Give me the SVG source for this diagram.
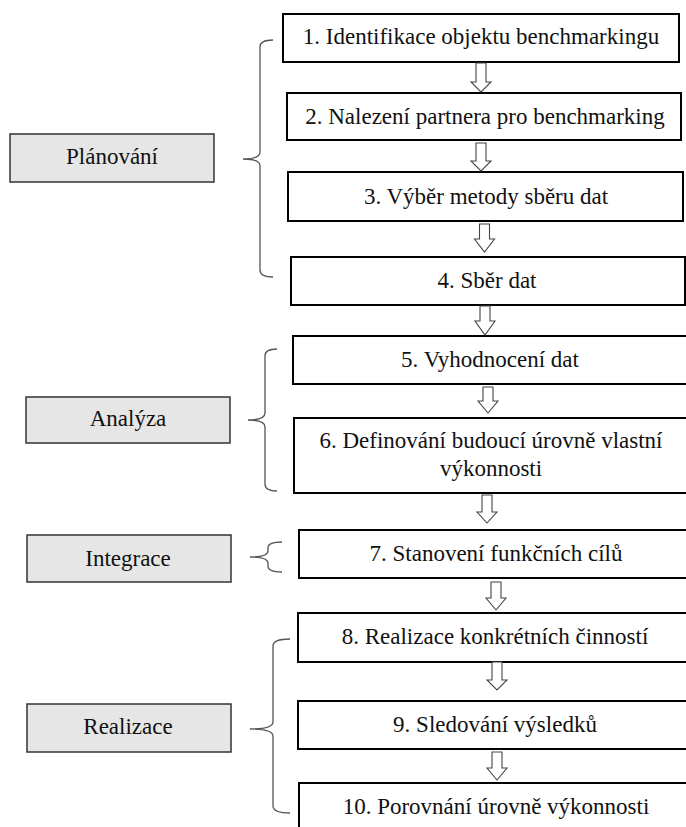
<svg xmlns="http://www.w3.org/2000/svg" width="686" height="827" viewBox="0 0 686 827" font-family="'Liberation Serif', 'DejaVu Serif', 'Times New Roman', serif">
<style>
.step rect{fill:#fff;stroke:#000;stroke-width:2}
.phase rect{fill:#e6e6e6;stroke:#333;stroke-width:1.5}
text{font-family:'Liberation Serif','DejaVu Serif','Times New Roman',serif;font-size:23px;fill:#111;text-anchor:middle}
.arrow{fill:#fff;stroke:#444;stroke-width:1.1;stroke-linejoin:miter}
.brace{fill:none;stroke:#555;stroke-width:1.3}
</style>
<rect width="686" height="827" fill="#fff"/>
<g id="phase-planovani" class="phase"><rect x="10" y="134" width="204" height="48"/><text x="112" y="164">Plánování</text></g>
<g id="phase-analyza" class="phase"><rect x="26" y="397" width="204" height="46"/><text x="128" y="426">Analýza</text></g>
<g id="phase-integrace" class="phase"><rect x="27" y="535" width="204" height="47"/><text x="128" y="566">Integrace</text></g>
<g id="phase-realizace" class="phase"><rect x="27" y="704" width="204" height="48"/><text x="128" y="734">Realizace</text></g>

<g id="step1" class="step"><rect x="283" y="14" width="396" height="48"/><text x="481" y="44">1. Identifikace objektu benchmarkingu</text></g>
<g id="step2" class="step"><rect x="287" y="93" width="394" height="47"/><text x="485" y="124">2. Nalezení partnera pro benchmarking</text></g>
<g id="step3" class="step"><rect x="288" y="172" width="395" height="49"/><text x="486" y="204">3. Výběr metody sběru dat</text></g>
<g id="step4" class="step"><rect x="291" y="257" width="394" height="48"/><text x="487" y="288">4. Sběr dat</text></g>
<g id="step5" class="step"><rect x="293" y="336" width="400" height="48"/><text x="490" y="367">5. Vyhodnocení dat</text></g>
<g id="step6" class="step"><rect x="294" y="418" width="400" height="75"/><text x="491" y="448">6. Definování budoucí úrovně vlastní</text><text x="491" y="476">výkonnosti</text></g>
<g id="step7" class="step"><rect x="299" y="530" width="400" height="48"/><text x="496" y="561">7. Stanovení funkčních cílů</text></g>
<g id="step8" class="step"><rect x="298" y="613" width="400" height="49"/><text x="495" y="644">8. Realizace konkrétních činností</text></g>
<g id="step9" class="step"><rect x="298" y="701" width="400" height="48"/><text x="495" y="732">9. Sledování výsledků</text></g>
<g id="step10" class="step"><rect x="299" y="783" width="400" height="60"/><text x="496" y="814">10. Porovnání úrovně výkonnosti</text></g>

<g id="connectors">
<path class="arrow" d="M476,63 L486,63 L486,82 L491,82 L481,92 L471,82 L476,82 Z"/>
<path class="arrow" d="M476,143 L486,143 L486,161 L491,161 L481,171 L471,161 L476,161 Z"/>
<path class="arrow" d="M479.5,224 L489.5,224 L489.5,239 L494.5,239 L484.5,252 L474.5,239 L479.5,239 Z"/>
<path class="arrow" d="M480,306 L490,306 L490,321 L495,321 L485,335 L475,321 L480,321 Z"/>
<path class="arrow" d="M483,387 L493,387 L493,401 L498,401 L488,413 L478,401 L483,401 Z"/>
<path class="arrow" d="M482,495 L492,495 L492,512 L497,512 L487,523 L477,512 L482,512 Z"/>
<path class="arrow" d="M491,582 L501,582 L501,598 L506,598 L496,610 L486,598 L491,598 Z"/>
<path class="arrow" d="M492,662 L502,662 L502,680 L507,680 L497,690 L487,680 L492,680 Z"/>
<path class="arrow" d="M492,752 L502,752 L502,768 L507,768 L497,780 L487,768 L492,768 Z"/>
<path class="brace" d="M273,40 Q260,40 260,47 L260,152 Q260,159 243,159 Q260,159 260,166 L260,270 Q260,277 273,277"/>
<path class="brace" d="M277,349 Q265,349 265,356 L265,413 Q265,420 248,420 Q265,420 265,427 L265,484 Q265,491 277,491"/>
<path class="brace" d="M282,542 Q268,542 268,548 L268,551 Q268,557 250,557 Q268,557 268,563 L268,566 Q268,572 282,572"/>
<path class="brace" d="M290,639 Q273,639 273,646 L273,722 Q273,729 250,729 Q273,729 273,736 L273,806 Q273,813 290,813"/>
</g>
</svg>
